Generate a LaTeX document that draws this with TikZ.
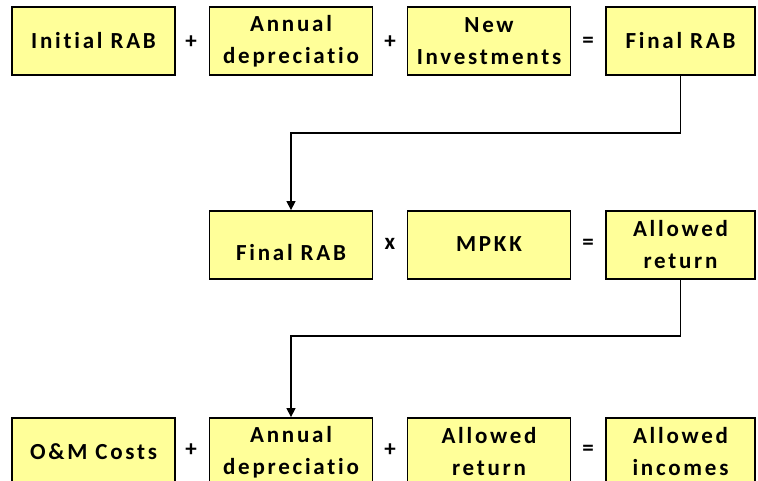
\documentclass[tikz,border=0pt]{standalone}
\usepackage{fontspec}
\newfontfamily\boxfont{Carlito}[LetterSpace=12, Ligatures=CommonOff]
\usetikzlibrary{arrows.meta}
\definecolor{boxyellow}{RGB}{255,255,153}

\begin{document}
\begin{tikzpicture}[
    x=1pt, y=-1pt,
    font=\boxfont\bfseries\fontsize{23}{32}\selectfont,
    box/.style={draw, line width=1.8pt, fill=boxyellow, minimum height=68pt, minimum width=163pt, align=center, inner sep=0pt},
    endbox/.style={box, minimum width=149pt},
    op/.style={inner sep=0pt},
    arr/.style={-{Triangle[width=9pt,length=9pt]}, line width=1.3pt},
]
    \useasboundingbox (0,0) rectangle (758,480);

    % Row 1: building the final RAB
    \node[box] (init) at (93.5, 41) {Initial RAB};
    \node[box] (dep) at (291, 41) {Annual\\depreciatio};
    \node[box] (inv) at (489, 41) {New\\Investments};
    \node[endbox] (rab) at (680.5, 41) {Final RAB};
    \node[op] (p1) at (191, 42) {+};
    \node[op] (p2) at (390, 42) {+};
    \node[op] (eq1) at (588, 42) {=};

    % Row 2: return on the RAB
    \node[box] (rab2) at (291, 245) {\mbox{}\\Final RAB};
    \node[box] (mpkk) at (489, 245) {\raisebox{2pt}{MPKK}};
    \node[endbox] (ret) at (680.5, 245) {Allowed\\return};
    \node[op] (times) at (390, 244) {x};
    \node[op] (eq2) at (588, 244) {=};

    % Row 3: allowed incomes
    \node[box] (om) at (93.5, 452) {O\&M Costs};
    \node[box] (dep2) at (291, 452) {Annual\\depreciatio};
    \node[box] (ret2) at (489, 452) {Allowed\\return};
    \node[endbox] (inc) at (680.5, 452) {Allowed\\incomes};
    \node[op] (p3) at (191, 450) {+};
    \node[op] (p4) at (390, 450) {+};
    \node[op] (eq3) at (588, 450) {=};

    % carry results down to the next row
    \draw[arr] (rab.south) -- ++(0,57) -| (rab2.north);
    \draw[arr] (ret.south) -- ++(0,56) -| (dep2.north);
\end{tikzpicture}
\end{document}
